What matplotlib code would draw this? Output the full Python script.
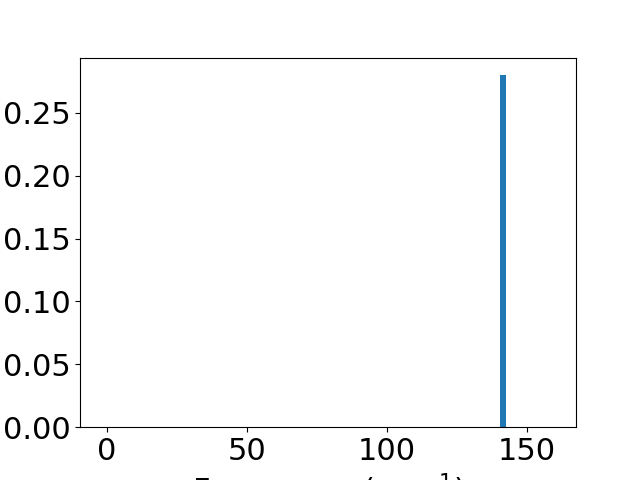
import matplotlib
matplotlib.use("Agg")
import matplotlib.pyplot as plt

# Spectrum data (single peak)
frequencies = [141.5]
intensities = [0.28]
bar_width = 2.0

plt.rcParams['font.size'] = 22

fig, ax = plt.subplots(figsize=(6.4, 4.8), dpi=100)
ax.bar(frequencies, intensities, width=bar_width, color='#1f77b4')
ax.set_xlim(-9.5, 167.6)
ax.set_xticks([0, 50, 100, 150])
ax.set_xlabel('Frequency (cm$^{-1}$)')

fig.savefig('out.png', dpi=100)
plt.close(fig)
